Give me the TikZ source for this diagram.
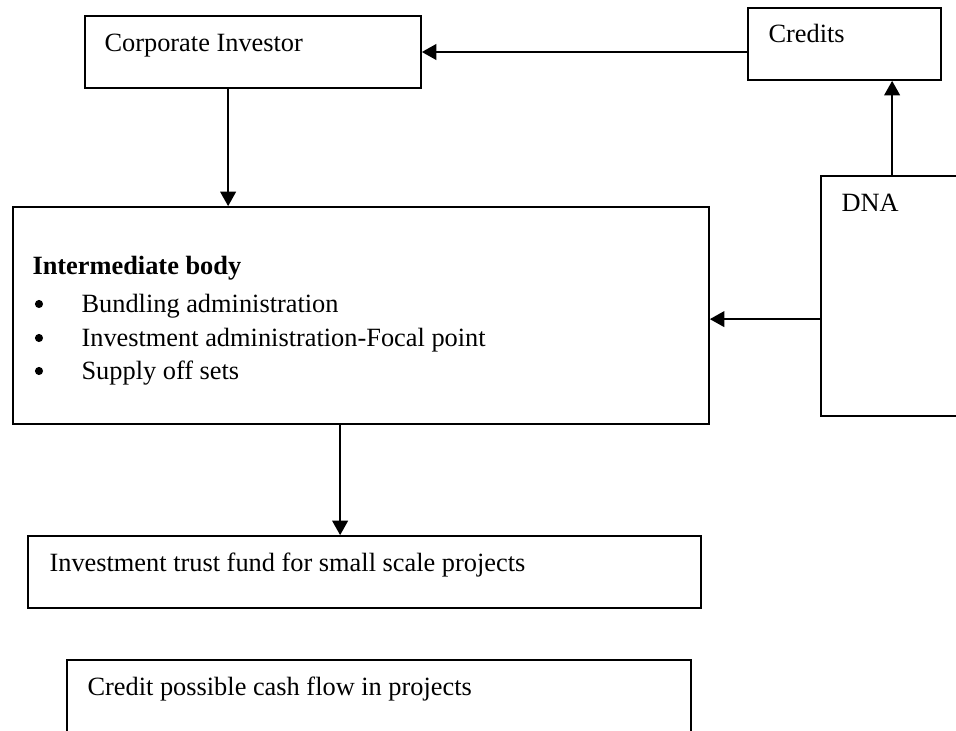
\documentclass[tikz,border=0pt]{standalone}
\usepackage{fontspec}
\setmainfont{Liberation Serif}
\usepackage{tikz}
\usetikzlibrary{calc,positioning}
\usetikzlibrary{arrows.meta}

\begin{document}
\begin{tikzpicture}[
    box/.style = {draw, line width = 0.8pt, inner sep = 0pt},
    txt/.style = {anchor = base west, inner sep = 0pt, font = \fontsize{12}{14}\selectfont},
    arr/.style = {-{Triangle[length = 0.23cm, width = 0.25cm]}, line width = 0.8pt}
]
    \useasboundingbox (0,0) rectangle (15.296,11.68);
    \clip (0,0) rectangle (15.296,11.68);

    \node[box, minimum width = 5.376cm, minimum height = 1.152cm] (ci) at (4.048,10.848) {};
    \node[box, minimum width = 3.088cm, minimum height = 1.152cm] (credits) at (13.512,10.976) {};
    \node[box, minimum width = 3.2cm, minimum height = 3.84cm] (dna) at (14.736,6.944) {};
    \node[box, minimum width = 11.136cm, minimum height = 3.472cm] (ib) at (5.776,6.632) {};
    \node[box, minimum width = 10.768cm, minimum height = 1.152cm] (itf) at (5.832,2.528) {};
    \node[box, minimum width = 9.984cm, minimum height = 1.92cm] (cpcf) at (6.064,0.16) {};

    \node[txt] at ($(ci.north west)+(0.32,-0.576)$) {Corporate Investor};
    \node[txt] at ($(credits.north west)+(0.336,-0.56)$) {Credits};
    \node[txt] at ($(dna.north west)+(0.336,-0.576)$) {DNA};
    \node[txt] at ($(ib.north west)+(0.32,-1.088)$) {\textbf{Intermediate body}};
    \foreach \y/\t in {
    1.696/Bundling administration,
    2.24/Investment administration-Focal point,
    2.768/Supply off sets
    }{\fill ($(ib.north west)+(0.43,-\y+0.13)$) circle (0.065);
      \node[txt] at ($(ib.north west)+(1.104,-\y)$) {\t};}
    \node[txt] at ($(itf.north west)+(0.352,-0.576)$) {Investment trust fund for small scale projects};
    \node[txt] at ($(cpcf.north west)+(0.336,-0.576)$) {Credit possible cash flow in projects};

    \coordinate (cidown) at ($(ci.south west)+(2.304,0)$);
    \coordinate (dnaup) at ($(dna.north west)+(1.152,0)$);
    \coordinate (dnaleft) at ($(dna.north west)+(0,-2.304)$);
    \coordinate (ibdown) at ($(ib.south west)+(5.248,0)$);

    \draw[arr] (ci.east -| credits.west) -- (ci.east);
    \draw[arr] (cidown) -- (cidown |- ib.north);
    \draw[arr] (dnaup) -- (dnaup |- credits.south);
    \draw[arr] (dnaleft) -- (dnaleft -| ib.east);
    \draw[arr] (ibdown) -- (ibdown |- itf.north);
\end{tikzpicture}
\end{document}
